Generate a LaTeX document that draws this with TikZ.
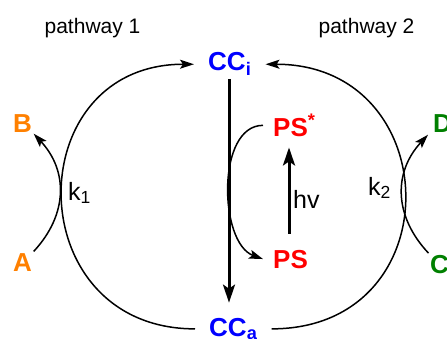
\documentclass[tikz,border=0pt]{standalone}
\usepackage{fontspec}
\setmainfont{Liberation Sans}
\usepackage{xcolor}
\usetikzlibrary{arrows.meta, positioning, calc}
\definecolor{ccblue}{RGB}{0,0,255}
\definecolor{aborange}{RGB}{255,128,0}
\definecolor{cdgreen}{RGB}{0,128,0}
\definecolor{psred}{RGB}{255,0,0}

\begin{document}
\begin{tikzpicture}[x=1pt, y=1pt,
    txt/.style={font=\fontsize{21}{25}\selectfont, inner sep=0pt},
    rate/.style={font=\fontsize{25}{30}\selectfont, inner sep=0pt},
    spec/.style={font=\fontsize{26}{30}\selectfont\bfseries, inner sep=3pt},
    cyc/.style={line width=1.5pt, -{Stealth[length=14pt, width=9pt, inset=3pt]}},
    big/.style={line width=3pt, -{Stealth[length=18pt, width=12pt, inset=4pt]}}]
    \useasboundingbox (0,0) rectangle (447,338);
    \node[txt, anchor=base] (pw1) at (92.5,304) {pathway 1};
    \node[txt, anchor=base] (pw2) at (366.5,304) {pathway 2};
    \node[spec, ccblue, anchor=base west, inner xsep=14pt] (CCi) at (194,267) {CC\textsubscript{i}};
    \node[spec, ccblue, anchor=base west, inner xsep=14pt] (CCa) at (195,2) {CC\textsubscript{a}};
    \node[spec, psred, anchor=base west, inner xsep=10pt] (PSs) at (263,202) {PS\textsuperscript{*}};
    \node[spec, psred, anchor=base west, inner xsep=10pt] (PS) at (263,70) {PS};
    \node[spec, aborange, anchor=base west, inner sep=1.5pt] (A) at (11.5,67) {A};
    \node[spec, aborange, anchor=base west, inner sep=1.5pt] (B) at (11.5,206) {B};
    \node[spec, cdgreen, anchor=base west, inner sep=1.5pt] (C) at (428.5,65) {C};
    \node[spec, cdgreen, anchor=base west, inner xsep=5pt, inner ysep=1.5pt] (D) at (428,205) {D};
    \node[rate, anchor=base west] (k1) at (68,138) {k\textsubscript{1}};
    \node[rate, anchor=base west] (k2) at (368,143) {k\textsubscript{2}};
    \node[rate, anchor=base west] (hv) at (293,130) {hv};
    \coordinate (ax) at (229,0);
    \coordinate (hx) at (289,0);
    \draw[cyc] (CCa.west) to[out=180, in=180, looseness=1.7] (CCi.west);
    \draw[cyc] (CCa.east) to[out=0, in=0, looseness=1.75] (CCi.east);
    \draw[big, shorten >=12pt] (CCi.south -| ax) -- (CCa.north -| ax);
    \draw[big, shorten <=13pt, shorten >=8pt] (PS.north -| hx) -- (PSs.south -| hx);
    \draw[cyc] (PSs.west) to[out=180, in=160, looseness=0.9] (PS.west);
    \draw[cyc] (A.north east) to[bend right=43, looseness=1.1] (B.south east);
    \draw[cyc] (C.north west) to[bend left=43, looseness=1.1] (D.south west);
\end{tikzpicture}
\end{document}
